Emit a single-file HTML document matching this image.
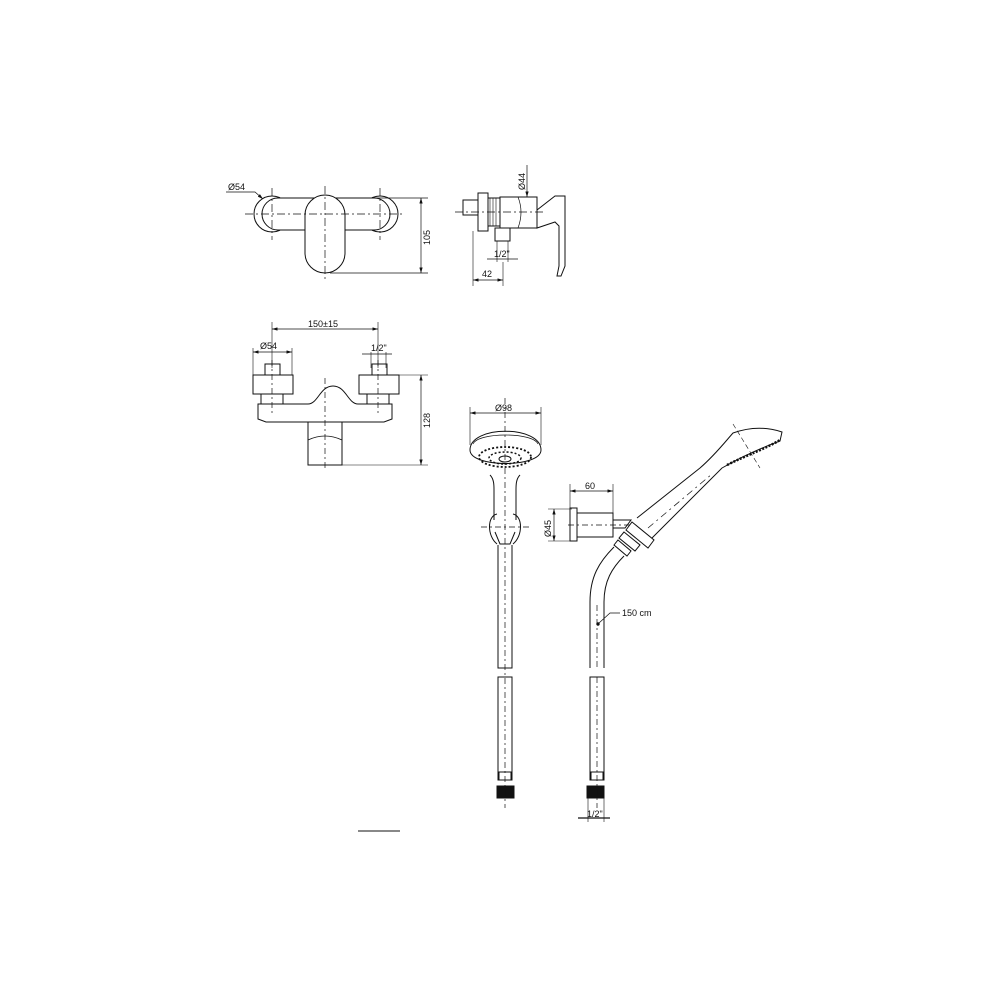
<!DOCTYPE html>
<html><head><meta charset="utf-8"><style>
html,body{margin:0;padding:0;background:#fff;}
svg{display:block;}
text{font-family:"Liberation Sans",sans-serif;font-size:9px;fill:#111;}
</style></head><body>
<svg width="1000" height="1000" viewBox="0 0 1000 1000" xmlns="http://www.w3.org/2000/svg">
<defs>
<marker id="a" viewBox="0 0 10 6" refX="10" refY="3" markerWidth="8" markerHeight="5" orient="auto-start-reverse"><path d="M0,0L10,3L0,6z" fill="#111"/></marker>
</defs>
<g fill="none" stroke="#111" stroke-width="1">
<!-- TOP VIEW -->
<circle cx="272" cy="214" r="18"/>
<circle cx="380" cy="214" r="18"/>
<rect x="262" y="198" width="128" height="32" rx="16" fill="#fff"/>
<rect x="305" y="195" width="40" height="78" rx="20" fill="#fff"/>
<g stroke-dasharray="8,3,2,3" stroke-width="0.7">
<line x1="245" y1="214" x2="405" y2="214"/>
<line x1="272" y1="188" x2="272" y2="240"/>
<line x1="380" y1="188" x2="380" y2="240"/>
<line x1="325" y1="186" x2="325" y2="280"/>
</g>
<line x1="345" y1="198" x2="428" y2="198" stroke-width="0.7"/>
<line x1="330" y1="273" x2="428" y2="273" stroke-width="0.7"/>
<line x1="421" y1="198" x2="421" y2="273" marker-start="url(#a)" marker-end="url(#a)" stroke-width="0.7"/>
<polyline points="226,192 255,192 263,199" stroke-width="0.7" marker-end="url(#a)"/>
<!-- SIDE VIEW -->
<rect x="463" y="200" width="15" height="15"/>
<rect x="478" y="193" width="10" height="38"/>
<rect x="488" y="198" width="12" height="28"/>
<path d="M490,198v28M493,198v28M496,198v28" stroke-width="0.6"/>
<rect x="500" y="197" width="37" height="31"/>
<path d="M518,197q6,15 0,31" stroke-width="0.7"/>
<path d="M537,210l18,-14h10v70l-4,10h-4l2,-10v-40l-4,-4l-18,6z"/>
<rect x="495" y="228" width="15" height="13"/>
<line x1="455" y1="212" x2="545" y2="212" stroke-dasharray="8,3,2,3" stroke-width="0.7"/>
<line x1="527" y1="165" x2="527" y2="197" stroke-width="0.7" marker-end="url(#a)"/>
<line x1="497" y1="241" x2="497" y2="262" stroke-width="0.6"/>
<line x1="508" y1="241" x2="508" y2="262" stroke-width="0.6"/>
<line x1="487" y1="259" x2="518" y2="259" stroke-width="0.7"/>
<line x1="473" y1="231" x2="473" y2="286" stroke-width="0.6"/>
<line x1="503" y1="262" x2="503" y2="286" stroke-width="0.6"/>
<line x1="473" y1="280" x2="503" y2="280" stroke-width="0.7" marker-start="url(#a)" marker-end="url(#a)"/>
<!-- FRONT VIEW -->
<line x1="272" y1="322" x2="272" y2="368" stroke-width="0.6"/>
<line x1="378" y1="322" x2="378" y2="368" stroke-width="0.6"/>
<line x1="272" y1="329" x2="378" y2="329" stroke-width="0.7" marker-start="url(#a)" marker-end="url(#a)"/>
<line x1="253" y1="348" x2="253" y2="375" stroke-width="0.6"/>
<line x1="292" y1="348" x2="292" y2="375" stroke-width="0.6"/>
<line x1="253" y1="352" x2="292" y2="352" stroke-width="0.7" marker-start="url(#a)" marker-end="url(#a)"/>
<line x1="371" y1="352" x2="371" y2="368" stroke-width="0.6"/>
<line x1="386" y1="352" x2="386" y2="368" stroke-width="0.6"/>
<line x1="362" y1="354" x2="392" y2="354" stroke-width="0.7"/>
<rect x="265" y="364" width="15" height="11"/>
<rect x="372" y="364" width="15" height="11"/>
<rect x="253" y="375" width="40" height="19"/>
<rect x="359" y="375" width="40" height="19"/>
<rect x="261" y="394" width="22" height="10"/>
<rect x="367" y="394" width="22" height="10"/>
<path d="M258,404h50c10,0 12,-18 25,-18c13,0 15,18 25,18h34v15l-8,3h-118l-8,-3z" fill="#fff"/>
<path d="M308,422h34v43h-34z"/>
<path d="M308,440q17,-8 34,0" stroke-width="0.8"/>
<line x1="272" y1="360" x2="272" y2="415" stroke-dasharray="6,3,2,3" stroke-width="0.7"/>
<line x1="378" y1="360" x2="378" y2="415" stroke-dasharray="6,3,2,3" stroke-width="0.7"/>
<line x1="325" y1="378" x2="325" y2="470" stroke-dasharray="6,3,2,3" stroke-width="0.7"/>
<line x1="399" y1="375" x2="428" y2="375" stroke-width="0.6"/>
<line x1="342" y1="465" x2="428" y2="465" stroke-width="0.6"/>
<line x1="421" y1="375" x2="421" y2="465" stroke-width="0.7" marker-start="url(#a)" marker-end="url(#a)"/>
<!-- HAND SHOWER FRONT -->
<line x1="470" y1="407" x2="470" y2="445" stroke-width="0.6"/>
<line x1="541" y1="407" x2="541" y2="445" stroke-width="0.6"/>
<line x1="470" y1="413" x2="541" y2="413" stroke-width="0.7" marker-start="url(#a)" marker-end="url(#a)"/>
<path d="M470,450c0,-25 71,-25 71,0c0,18 -71,18 -71,0z" fill="#fff"/>
<path d="M473,444c5,-12 60,-12 65,0" stroke-width="0.7"/>
<ellipse cx="505" cy="457" rx="26" ry="10" stroke-dasharray="2,2" stroke-width="1.8"/>
<ellipse cx="505" cy="458" rx="16" ry="6" stroke-dasharray="2,2" stroke-width="1.5"/>
<ellipse cx="505" cy="459" rx="6" ry="3"/>
<path d="M490,475c4,4 4,10 4,15v30M520,475c-4,4 -4,10 -4,15v30"/>
<path d="M497,514c-10,2 -10,22 0,30M513,514c10,2 10,22 0,30"/>
<path d="M495,532l5,12h10l5,-12"/>
<line x1="481" y1="527" x2="530" y2="527" stroke-dasharray="6,3,2,3" stroke-width="0.7"/>
<path d="M498,545v123h14v-123"/>
<path d="M498,677h14v103h-14z"/>
<rect x="499" y="772" width="12" height="8"/>
<rect x="497" y="786" width="17" height="12" fill="#111"/>
<line x1="505" y1="398" x2="505" y2="808" stroke-dasharray="6,3,2,3" stroke-width="0.7"/>
<!-- WALL HOLDER -->
<line x1="570" y1="484" x2="570" y2="508" stroke-width="0.6"/>
<line x1="613" y1="484" x2="613" y2="513" stroke-width="0.6"/>
<line x1="570" y1="491" x2="613" y2="491" stroke-width="0.7" marker-start="url(#a)" marker-end="url(#a)"/>
<line x1="548" y1="509" x2="572" y2="509" stroke-width="0.6"/>
<line x1="548" y1="541" x2="572" y2="541" stroke-width="0.6"/>
<line x1="554" y1="509" x2="554" y2="541" stroke-width="0.7" marker-start="url(#a)" marker-end="url(#a)"/>
<rect x="570" y="508" width="7" height="33"/>
<rect x="577" y="513" width="36" height="24"/>
<path d="M613,520h18l-6,8h-12z"/>
<line x1="568" y1="525" x2="630" y2="525" stroke-dasharray="6,3,2,3" stroke-width="0.7"/>
<!-- HAND SHOWER SIDE -->
<path d="M637,518L700,468C715,455 725,442 733,433Q758,424 782,432L780,441Q750,452 722,468L652,538" fill="#fff"/>
<path d="M727,465c20,-10 38,-16 53,-25" stroke-width="2.5" stroke-dasharray="2,1.5"/>
<line x1="733" y1="424" x2="760" y2="468" stroke-dasharray="5,3" stroke-width="0.6"/>
<line x1="648" y1="528" x2="712" y2="474" stroke-dasharray="7,4,2,4" stroke-width="0.7"/>
<path d="M632,522l22,18l-6,8l-22,-18z" fill="#fff"/>
<path d="M624,532l16,13l-5,6l-16,-13z" fill="#fff"/>
<path d="M618,540l13,11l-4,5l-13,-11z" fill="#fff"/>
<path d="M614,547c-15,15 -24,30 -24,55v66M624,556c-12,12 -20,25 -20,46v66"/>
<path d="M590,677h14v103h-14z"/>
<rect x="591" y="772" width="12" height="8"/>
<rect x="587" y="786" width="17" height="12" fill="#111"/>
<line x1="597" y1="605" x2="597" y2="668" stroke-dasharray="6,3,2,3" stroke-width="0.7"/>
<line x1="597" y1="677" x2="597" y2="808" stroke-dasharray="6,3,2,3" stroke-width="0.7"/>
<line x1="588" y1="798" x2="588" y2="822" stroke-width="0.6"/>
<line x1="604" y1="798" x2="604" y2="822" stroke-width="0.6"/>
<line x1="578" y1="818" x2="610" y2="818" stroke-width="1.2"/>
<polyline points="620,613 610,613 599,623" stroke-width="0.7"/>
<circle cx="598" cy="624" r="1.2" fill="#111"/>
<line x1="358" y1="831" x2="400" y2="831" stroke-width="1"/>
</g>
<text x="228" y="190">Ø54</text>
<text transform="translate(430,245) rotate(-90)">105</text>
<text transform="translate(525,190) rotate(-90)">Ø44</text>
<text x="494" y="257">1/2"</text>
<text x="482" y="277">42</text>
<text x="308" y="327">150±15</text>
<text x="260" y="349">Ø54</text>
<text x="371" y="351">1/2"</text>
<text transform="translate(430,428) rotate(-90)">128</text>
<text x="495" y="411">Ø98</text>
<text x="585" y="489">60</text>
<text transform="translate(551,537) rotate(-90)">Ø45</text>
<text x="622" y="616">150 cm</text>
<text x="587" y="817">1/2"</text>
</svg>
</body></html>
